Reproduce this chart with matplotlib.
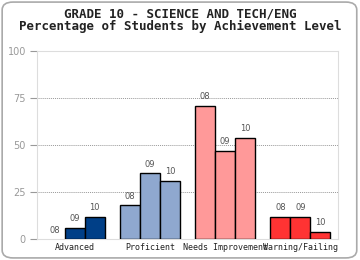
import numpy as np
import matplotlib
matplotlib.use('Agg')
import matplotlib.pyplot as plt
from matplotlib.patches import FancyBboxPatch

# 성취 수준별 학생 비율 (08 / 09 / 10 년도)
CATEGORIES = ['Advanced', 'Proficient', 'Needs Improvement', 'Warning/Failing']
YEARS = ['08', '09', '10']
VALUES = [
    [0, 6, 12],
    [18, 35, 31],
    [71, 47, 54],
    [12, 12, 4],
]
COLORS = ['#003f87', '#8fa8cf', '#ff9999', '#ff3333']
Y_TICKS = [0, 25, 50, 75, 100]

fig = plt.figure(figsize=(3.6, 2.6), dpi=100)
ax = fig.add_axes([0.1028, 0.0796, 0.8361, 0.7242])

# 바깥 둥근 테두리
fig.patches.append(FancyBboxPatch((0.006, 0.008), 0.985, 0.984,
                                  boxstyle='round,pad=0,rounding_size=0.03',
                                  transform=fig.transFigure, fill=False,
                                  edgecolor='#aaaaaa', linewidth=1.2))

fig.text(0.5, 0.945, 'GRADE 10 - SCIENCE AND TECH/ENG', ha='center', va='center',
         family='DejaVu Sans Mono', fontsize=9, fontweight='bold', color='#222222')
fig.text(0.5, 0.898, 'Percentage of Students by Achievement Level', ha='center', va='center',
         family='DejaVu Sans Mono', fontsize=9, fontweight='bold', color='#222222')

width = 0.8 / 3
x = np.arange(len(CATEGORIES))
for i, cat in enumerate(CATEGORIES):
    for j, yr in enumerate(YEARS):
        xpos = x[i] - width + j * width
        v = VALUES[i][j]
        # 0% 막대는 테두리 없이 (참조 그림처럼 보이지 않게)
        ax.bar(xpos, v, width=width, color=COLORS[i], edgecolor='black',
               linewidth=1.0 if v > 0 else 0, zorder=3)
        ax.text(xpos, v + 2.5, yr, ha='center', va='bottom', fontsize=6,
                family='DejaVu Sans', color='#555555', zorder=4)

ax.set_xlim(-0.5, len(CATEGORIES) - 0.5)
ax.set_ylim(0, 100)
ax.set_yticks(Y_TICKS)
ax.set_xticks(x)
ax.set_xticklabels(CATEGORIES, family='DejaVu Sans Mono', fontsize=6, color='#222222')
ax.tick_params(axis='x', length=0, pad=3)
ax.tick_params(axis='y', length=5, color='#999999', labelcolor='#999999',
               labelsize=7, pad=3)
for y in Y_TICKS[1:-1]:
    ax.axhline(y, color='#999999', linestyle=(0, (1, 1)), linewidth=0.7, zorder=1)
for s in ax.spines.values():
    s.set_color('#dddddd')
    s.set_linewidth(0.8)

plt.savefig('out.png', dpi=100)
plt.close()
